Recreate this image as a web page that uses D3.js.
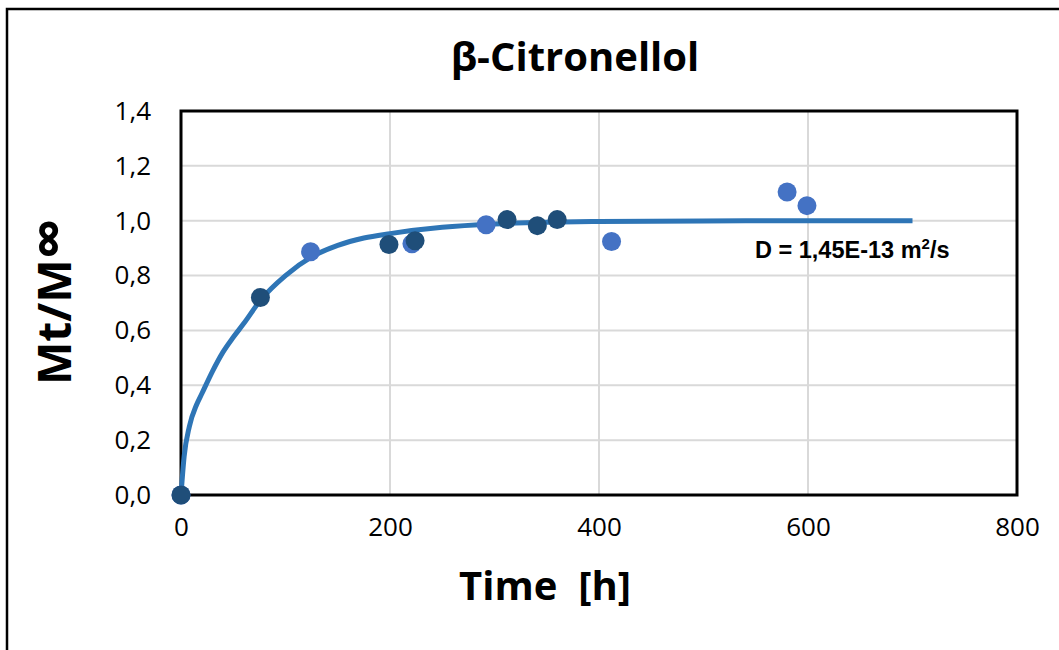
<!DOCTYPE html>
<html><head><meta charset="utf-8">
<script src="https://cdn.jsdelivr.net/npm/d3@7"></script>
<style>html,body{margin:0;padding:0;background:#fff;}svg{display:block;}</style>
</head><body>
<svg id="chart" width="1059" height="650"></svg>
<script>
// ---- data ----
const title = "β-Citronellol";
const xLabel = "Time\u00a0\u00a0[h]";
const yLabel = "Mt/M";
const yLabelSym = "∞";
const xTicks = [0, 200, 400, 600, 800];
const yTicks = [0, 0.2, 0.4, 0.6, 0.8, 1.0, 1.2, 1.4];
// series 1 (light blue)
const s1Time = [0, 124, 221, 292, 412, 580, 599];
const s1Val  = [0, 0.887, 0.916, 0.985, 0.924, 1.105, 1.055];
// series 2 (dark blue)
const s2Time = [0, 76, 199, 224, 312, 341, 360];
const s2Val  = [0, 0.72, 0.913, 0.927, 1.004, 0.982, 1.004];
// fitted model curve
const fitTime = [0, 3, 8, 15, 20, 30, 40, 50, 60, 76, 100, 125, 150, 175, 200, 250, 300, 350, 400, 500, 600, 700];
const fitVal  = [0, 0.14, 0.25, 0.33, 0.37, 0.45, 0.52, 0.575, 0.625, 0.71, 0.80, 0.868, 0.91, 0.937, 0.953, 0.976, 0.988, 0.994, 0.997, 0.999, 1.0, 1.0];
const annotation = "D = 1,45E-13 m";

const svg = d3.select("#chart");
const L = 181, R = 1017, T = 111, B = 495;
const x = d3.scaleLinear().domain([0, 800]).range([L, R]);
const y = d3.scaleLinear().domain([0, 1.4]).range([B, T]);
const fmt = d => d3.format(".1f")(d).replace(".", ",");

// outer border
svg.append("path").attr("d", `M7,650 V9 H1059`).attr("fill","none").attr("stroke","#000").attr("stroke-width",2.5);

// grid
svg.append("g").selectAll("line").data(yTicks.slice(1, -1)).join("line")
  .attr("x1", L).attr("x2", R).attr("y1", d => y(d)).attr("y2", d => y(d))
  .attr("stroke", "#d9d9d9").attr("stroke-width", 2);
svg.append("g").selectAll("line").data(xTicks.slice(1, -1)).join("line")
  .attr("y1", T).attr("y2", B).attr("x1", d => x(d)).attr("x2", d => x(d))
  .attr("stroke", "#d9d9d9").attr("stroke-width", 2);

// axes (labels only)
const xAxis = d3.axisBottom(x).tickValues(xTicks).tickSize(0).tickPadding(23).tickFormat(d3.format("d"));
const gx = svg.append("g").attr("transform", `translate(0,${B})`).call(xAxis);
const yAxis = d3.axisLeft(y).tickValues(yTicks).tickSize(0).tickPadding(30).tickFormat(fmt);
const gy = svg.append("g").attr("transform", `translate(${L},0)`).call(yAxis);
[gx, gy].forEach(g => {
  g.select(".domain").remove();
  g.selectAll("text").attr("font-family", "'Open Sans', sans-serif").attr("font-size", 26).attr("fill", "#000");
});

// frame
svg.append("rect").attr("x", L).attr("y", T).attr("width", R - L).attr("height", B - T)
  .attr("fill", "none").attr("stroke", "#000").attr("stroke-width", 3);

// fitted line
svg.append("path").datum(fitTime.map((t, i) => [t, fitVal[i]]))
  .attr("d", d3.line().x(d => x(d[0])).y(d => y(d[1])).curve(d3.curveMonotoneX))
  .attr("fill", "none").attr("stroke", "#2e75b6").attr("stroke-width", 5).attr("stroke-linejoin","round");

// points
svg.append("g").selectAll("circle").data(s1Time.map((t, i) => [t, s1Val[i]])).join("circle")
  .attr("cx", d => x(d[0])).attr("cy", d => y(d[1])).attr("r", 9.5).attr("fill", "#4472c4");
svg.append("g").selectAll("circle").data(s2Time.map((t, i) => [t, s2Val[i]])).join("circle")
  .attr("cx", d => x(d[0])).attr("cy", d => y(d[1])).attr("r", 9.5).attr("fill", "#1f4e79");

// annotation
const ann = svg.append("text").attr("x", 755).attr("y", 258)
  .attr("font-family", "'Liberation Sans', Arial, sans-serif").attr("font-weight", "bold").attr("font-size", 23.5).attr("fill", "#000");
ann.append("tspan").text(annotation);
ann.append("tspan").attr("dy", -9).attr("font-size", 15).text("2");
ann.append("tspan").attr("dy", 9).text("/s");

// titles
svg.append("text").attr("x", 575).attr("y", 71).attr("text-anchor", "middle")
  .attr("font-family", "'Open Sans', sans-serif").attr("font-weight", "bold").attr("font-size", 40)
  .text(title);
svg.append("text").attr("x", 545).attr("y", 600).attr("text-anchor", "middle")
  .attr("font-family", "'Open Sans', sans-serif").attr("font-weight", "bold").attr("font-size", 40)
  .text(xLabel);
const yl = svg.append("text").attr("transform", `translate(71,385) rotate(-90)`).attr("text-anchor", "start")
  .attr("font-family", "'Open Sans', sans-serif").attr("font-weight", "bold").attr("font-size", 46);
yl.append("tspan").text(yLabel);
yl.append("tspan").attr("font-size", 58).attr("dy", -2).text(yLabelSym);
</script>
</body></html>
